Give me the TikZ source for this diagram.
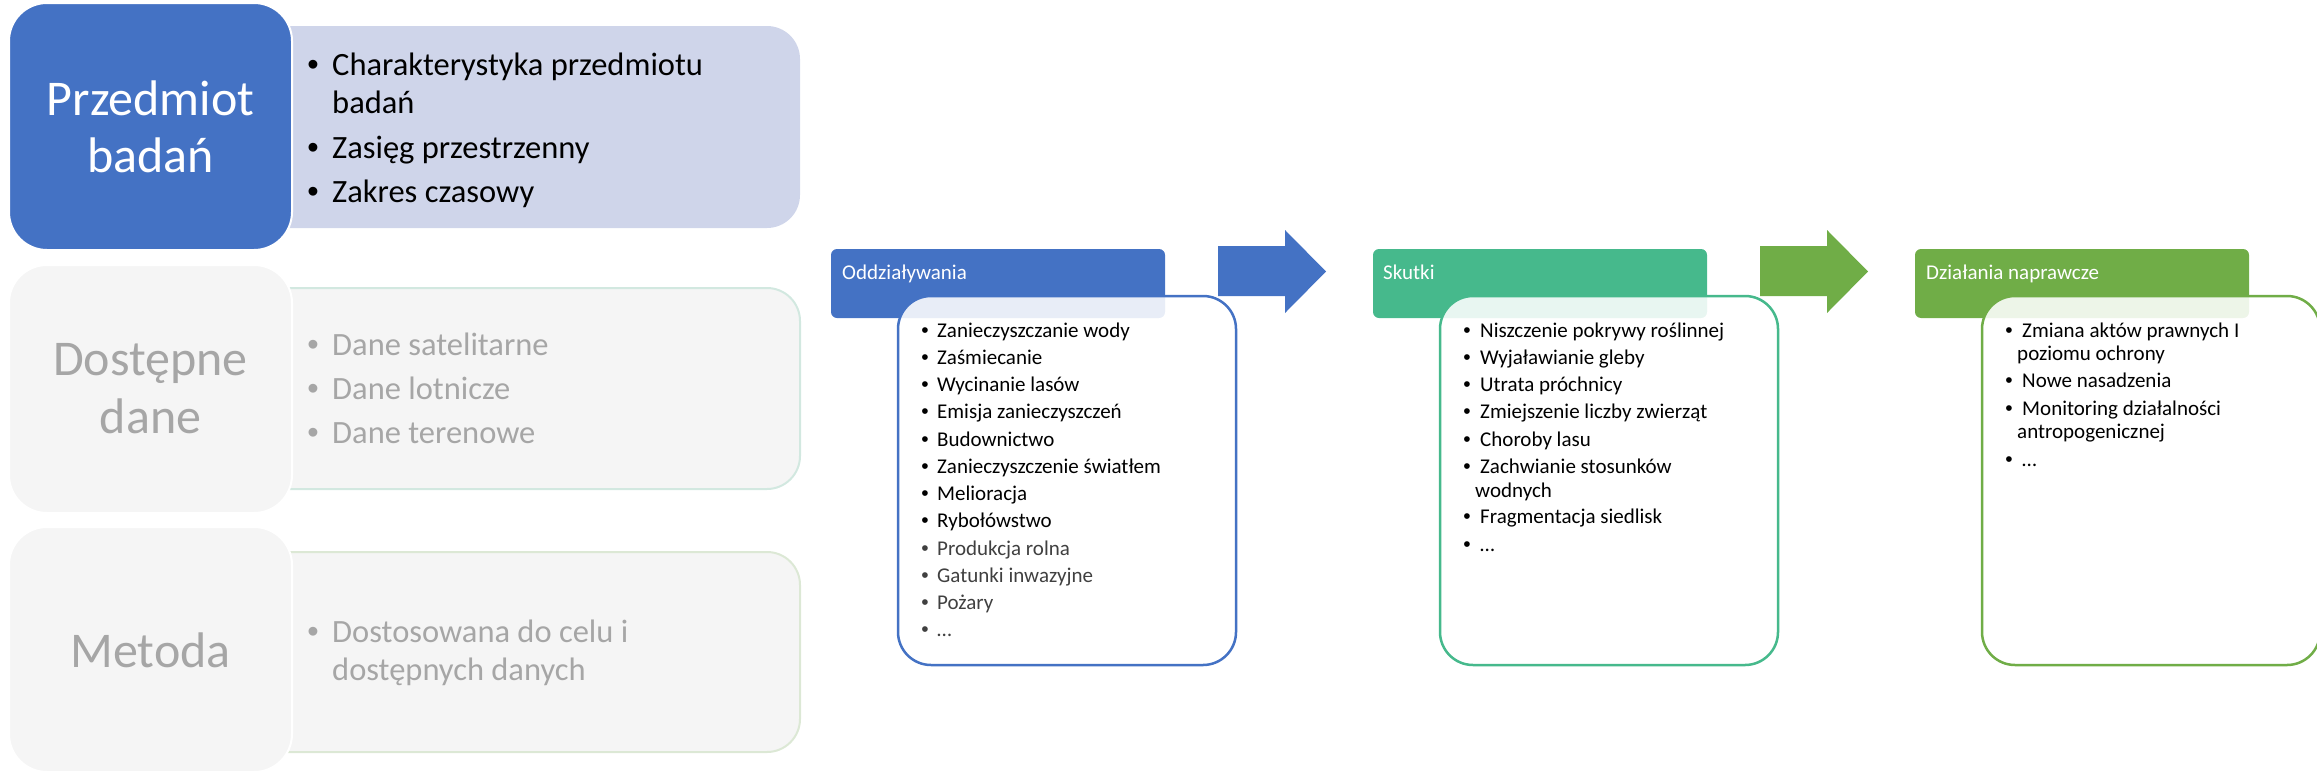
\documentclass[tikz,border=0pt]{standalone}
\usepackage{fontspec}
\setmainfont{Carlito}
\newfontfamily\bulletfont{Liberation Sans}
\definecolor{cblue}{HTML}{4472C4}
\definecolor{cteal}{HTML}{46B98C}
\definecolor{cgreen}{HTML}{70AD47}
\definecolor{clight}{HTML}{CFD5EA}
\definecolor{cgrayfill}{HTML}{F5F5F5}
\definecolor{cgraytext}{HTML}{A6A6A6}
\definecolor{ctealline}{HTML}{D2E8E0}
\definecolor{cgreenline}{HTML}{DCE8D5}
\definecolor{cdarktext}{HTML}{404040}
\newcommand\fbig{\fontsize{50}{58}\selectfont}
\newcommand\fmid{\fontsize{32.5}{38}\selectfont}
\newcommand\fsml{\fontsize{21}{24}\selectfont}
\begin{document}
\begin{tikzpicture}[x=1pt,y=-1pt,
  box/.style={rectangle, inner sep=0pt, outer sep=0pt, anchor=north west},
  bigbox/.style={box, rounded corners=38, draw=white, line width=2},
  lightbox/.style={box, rounded corners=33},
  hdrbox/.style={box, rounded corners=6, minimum width=334, minimum height=69},
  listbox/.style={box, rounded corners=33, line width=2.5, fill=white, fill opacity=0.88, minimum width=338, minimum height=369},
  bigtxt/.style={anchor=base, inner sep=0, font=\fbig},
  bulmid/.style={anchor=base, inner sep=0, font=\bulletfont\fmid},
  txtmid/.style={anchor=base west, inner sep=0, font=\fmid},
  bulsml/.style={anchor=base, inner sep=0, font=\bulletfont\fsml},
  txtsml/.style={anchor=base west, inner sep=0, font=\fsml},
  hdrtxt/.style={anchor=base west, inner sep=0, font=\fsml, text=white}]
\useasboundingbox (0,0) rectangle (2317,774);

% ---- left column: light boxes ----
\node[lightbox, fill=clight, minimum width=600, minimum height=202] (lb1) at (200,26) {};
\node[lightbox, fill=cgrayfill, draw=ctealline, line width=2, minimum width=600, minimum height=201] (lb2) at (200,288) {};
\node[lightbox, fill=cgrayfill, draw=cgreenline, line width=2, minimum width=600, minimum height=200] (lb3) at (200,552) {};

% ---- left column: title boxes ----
\node[bigbox, fill=cblue, minimum width=283, minimum height=247] (pb) at (9,3) {};
\node[bigbox, fill=cgrayfill, minimum width=283, minimum height=248] (db) at (9,265) {};
\node[bigbox, fill=cgrayfill, minimum width=283, minimum height=245] (mb) at (9,527) {};

\node[bigtxt, text=white] (pbt1) at (150.5,115) {Przedmiot};
\node[bigtxt, text=white] (pbt2) at (150.5,172) {badań};
\node[bigtxt, text=cgraytext] (dbt1) at (150.5,375) {Dostępne};
\node[bigtxt, text=cgraytext] (dbt2) at (150.5,433) {dane};
\node[bigtxt, text=cgraytext] (mbt1) at (150.5,667) {Metoda};

% items box 1
\node[bulmid] (l1b1) at (313,75) {•};
\node[txtmid] (l1t1) at (332,75) {Charakterystyka przedmiotu};
\node[txtmid] (l1t1b) at (332,113) {badań};
\node[bulmid] (l1b2) at (313,158) {•};
\node[txtmid] (l1t2) at (332,158) {Zasięg przestrzenny};
\node[bulmid] (l1b3) at (313,202) {•};
\node[txtmid] (l1t3) at (332,202) {Zakres czasowy};

% items box 2
\foreach \y/\t [count=\i] in {355/Dane satelitarne, 399/Dane lotnicze, 443/Dane terenowe}{
  \node[bulmid, text=cgraytext] (l2b\i) at (313,\y) {•};
  \node[txtmid, text=cgraytext] (l2t\i) at (332,\y) {\t};
}
% items box 3
\node[bulmid, text=cgraytext] (l3b1) at (313,642) {•};
\node[txtmid, text=cgraytext] (l3t1) at (332,642) {Dostosowana do celu i};
\node[txtmid, text=cgraytext] (l3t1b) at (332,680) {dostępnych danych};

% ---- right part: headers ----
\node[hdrbox, fill=cblue] (oh) at (831,249) {};
\node[hdrbox, fill=cteal] (sh) at (1373,249) {};
\node[hdrbox, fill=cgreen] (dh) at (1915,249) {};

% arrows
\fill[cblue] (1218,246) -- (1285,246) -- (1285,230) -- (1326,271.5) -- (1285,313) -- (1285,296) -- (1218,296) -- cycle;
\fill[cgreen] (1760,246) -- (1827,246) -- (1827,230) -- (1868,271.5) -- (1827,313) -- (1827,296) -- (1760,296) -- cycle;

% list boxes
\node[listbox, draw=cblue] (ob) at (898,296) {};
\node[listbox, draw=cteal] (sb) at (1440,296) {};
\node[listbox, draw=cgreen] (dbx) at (1982,296) {};

\node[hdrtxt] (oht) at (842,279) {Oddziaływania};
\node[hdrtxt] (sht) at (1383,279) {Skutki};
\node[hdrtxt] (dht) at (1926,279) {Działania naprawcze};

% Oddzialywania list
\foreach \t [count=\i] in {Zanieczyszczanie wody, Zaśmiecanie, Wycinanie lasów, Emisja zanieczyszczeń, Budownictwo, Zanieczyszczenie światłem, Melioracja, Rybołówstwo}{
  \node[bulsml] (obu\i) at (925,{337+(\i-1)*27.27}) {•};
  \node[txtsml] (ot\i) at (937,{337+(\i-1)*27.27}) {\t};
}
\foreach \t [count=\i from 9] in {Produkcja rolna, Gatunki inwazyjne, Pożary, …}{
  \node[bulsml, text=cdarktext] (obu\i) at (925,{337+(\i-1)*27.27}) {•};
  \node[txtsml, text=cdarktext] (ot\i) at (937,{337+(\i-1)*27.27}) {\t};
}

% Skutki list
\foreach \y/\t [count=\i] in {337/Niszczenie pokrywy roślinnej, 364.3/Wyjaławianie gleby, 391.6/Utrata próchnicy, 418.9/Zmiejszenie liczby zwierząt, 446.2/Choroby lasu, 473.5/Zachwianie stosunków, 523.8/Fragmentacja siedlisk, 551.1/…}{
  \node[bulsml] (sbu\i) at (1467,\y) {•};
  \node[txtsml] (st\i) at (1480,\y) {\t};
}
\node[txtsml] (st6b) at (1475,497) {wodnych};

% Dzialania list
\foreach \y/\t [count=\i] in {337/Zmiana aktów prawnych I, 387.8/Nowe nasadzenia, 415/Monitoring działalności, 466/…}{
  \node[bulsml] (dbu\i) at (2009,\y) {•};
  \node[txtsml] (dt\i) at (2022,\y) {\t};
}
\node[txtsml] (dt1b) at (2017,360.5) {poziomu ochrony};
\node[txtsml] (dt3b) at (2017,438.5) {antropogenicznej};
\end{tikzpicture}
\end{document}
